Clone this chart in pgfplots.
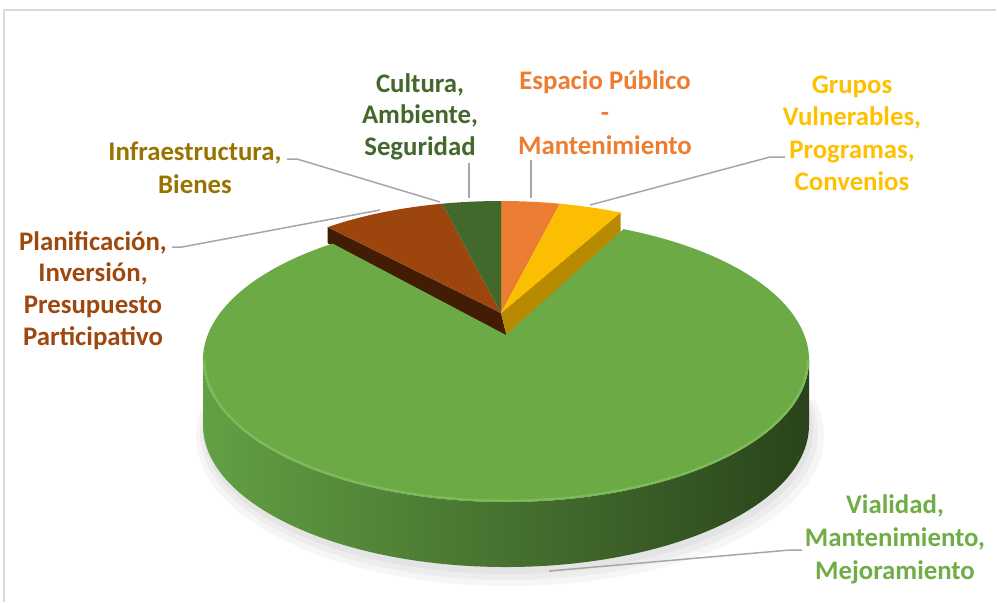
\documentclass[border=0pt]{standalone}
\usepackage{pgfplots}
\pgfplotsset{compat=1.18}
\usepackage{pgfplotstable}
\usepackage{fontspec}
\setmainfont{Carlito}
\definecolor{cOrange}{HTML}{EA7D32}
\definecolor{cYellow}{HTML}{FBBE00}
\definecolor{cYellowSide}{HTML}{B88A00}
\definecolor{cGreen}{HTML}{6CAA46}
\definecolor{cBrown}{HTML}{9C460D}
\definecolor{cBrownSide}{HTML}{421C04}
\definecolor{cDkGreen}{HTML}{43682B}
\definecolor{cInfra}{HTML}{997300}
\definecolor{tOrange}{HTML}{ED7D31}
\definecolor{tYellow}{HTML}{FFC000}
\definecolor{tGreen}{HTML}{70AD47}
\definecolor{tBrown}{HTML}{9E480E}
\definecolor{tDkGreen}{HTML}{43682B}
\definecolor{cSideL}{HTML}{62A044}
\definecolor{cSideM}{HTML}{3E6A2B}
\definecolor{cSideR}{HTML}{2A431B}
\definecolor{cHi}{HTML}{8ECB6A}
\definecolor{cLead}{HTML}{A6A6A6}
\definecolor{cFrame}{HTML}{D9D9D9}

% shares in percent, clockwise from the top:
% Espacio Publico, Grupos Vulnerables, Vialidad, Planificacion, Infraestructura, Cultura
\pgfplotstableread{
value
3.5
3.8
81.6
7.6
0
3.5
}\piedata

\newcommand\labfont{\fontsize{13.4}{16}\selectfont\bfseries}
\newcommand\lab[4]{\node[anchor=base,text=#1,inner sep=0pt,font=\labfont] at (axis cs:#2,#3) {#4};}

\begin{document}
\begin{tikzpicture}
\pgfplotstablegetelem{0}{value}\of\piedata\pgfmathsetmacro\vA{\pgfplotsretval}
\pgfplotstablegetelem{1}{value}\of\piedata\pgfmathsetmacro\vB{\pgfplotsretval}
\pgfplotstablegetelem{2}{value}\of\piedata\pgfmathsetmacro\vC{\pgfplotsretval}
\pgfplotstablegetelem{3}{value}\of\piedata\pgfmathsetmacro\vD{\pgfplotsretval}
\pgfplotstablegetelem{4}{value}\of\piedata\pgfmathsetmacro\vE{\pgfplotsretval}
\pgfplotstablegetelem{5}{value}\of\piedata\pgfmathsetmacro\vF{\pgfplotsretval}
\pgfmathsetmacro\tA{0}
\pgfmathsetmacro\tB{\tA+3.6*\vA}
\pgfmathsetmacro\tC{\tB+3.6*\vB}
\pgfmathsetmacro\tD{\tC+3.6*\vC}
\pgfmathsetmacro\tE{\tD+3.6*\vD}
\pgfmathsetmacro\tF{\tE+3.6*\vE}
\pgfmathsetmacro\tG{\tF+3.6*\vF}
\pgfmathsetmacro\aA{90-\tA}
\pgfmathsetmacro\aB{90-\tB}
\pgfmathsetmacro\aC{90-\tC}
\pgfmathsetmacro\aD{90-\tD}
\pgfmathsetmacro\aE{90-\tE}
\pgfmathsetmacro\aF{90-\tF}
\pgfmathsetmacro\aG{90-\tG}
% perspective for the exploded slice
\pgfmathsetmacro\gS{2*atan(0.865*tan(\tC/2))}
\pgfmathsetmacro\gEraw{2*atan(0.865*tan(\tD/2))}
\pgfmathsetmacro\gE{\gEraw<0 ? \gEraw+360 : \gEraw}
\pgfmathsetmacro\bS{90-\gS}
\pgfmathsetmacro\bE{90-\gE}
\begin{axis}[
  name=ax,
  scale only axis, width=498.5pt, height=301pt,
  xmin=0, xmax=997, ymin=0, ymax=602, y dir=reverse,
  hide axis, clip=false]
% frame
\draw[cFrame, line width=0.75pt] (axis cs:4,602) -- (axis cs:4,10) -- (axis cs:996,10);
% small (back) slices: radial side faces
\fill[cBrownSide] (axis cs:501,313) -- ++({135pt*cos(\aD)},{56pt*sin(\aD)}) -- ++(0,-8pt) -- (axis cs:508,341) -- cycle;
\fill[cYellowSide] (axis cs:501,313) -- ++({135pt*cos(\aC)},{56pt*sin(\aC)}) -- ++(0,-12pt) -- (axis cs:508,342) -- cycle;
% small slices: top faces
\fill[cOrange] (axis cs:501,313) -- ++({135pt*cos(\aA)},{56pt*sin(\aA)}) arc[start angle=\aA,end angle=\aB,x radius=135pt,y radius=56pt] -- cycle;
\fill[cYellow] (axis cs:501,313) -- ++({135pt*cos(\aB)},{56pt*sin(\aB)}) arc[start angle=\aB,end angle=\aC,x radius=135pt,y radius=56pt] -- cycle;
\fill[cBrown] (axis cs:501,313) -- ++({135pt*cos(\aD)},{56pt*sin(\aD)}) arc[start angle=\aD,end angle=\aE,x radius=135pt,y radius=56pt] -- cycle;
\fill[cDkGreen] (axis cs:501,313) -- ++({135pt*cos(\aF)},{56pt*sin(\aF)}) arc[start angle=\aF,end angle=\aG,x radius=135pt,y radius=56pt] -- cycle;
% shadow (only below the pie)
\begin{scope}
\clip (axis cs:150,400) rectangle (axis cs:880,602);
\fill[black,opacity=0.035] (axis cs:510,436) ellipse[x radius=157pt,y radius=75pt];
\fill[black,opacity=0.035] (axis cs:509,433) ellipse[x radius=154.5pt,y radius=73.5pt];
\fill[black,opacity=0.04] (axis cs:508,430) ellipse[x radius=152.5pt,y radius=72pt];
\end{scope}
% green (exploded) slice: side
\shade[left color=cSideL, middle color=cSideM, right color=cSideR]
  (axis cs:506,360) ++(151.5pt,0) arc[start angle=0,end angle=-180,x radius=151.5pt,y radius=71pt]
  -- ++(0,-32.5pt) arc[start angle=-180,end angle=0,x radius=151.5pt,y radius=71pt] -- cycle;
% green slice: top face
\fill[cGreen] (axis cs:506,360) ++({151.5pt*cos(\bS)},{71pt*sin(\bS)})
  arc[start angle=\bS,end angle=\bE,x radius=151.5pt,y radius=71pt] -- (axis cs:506,335) -- cycle;
\draw[cHi, line width=1pt, opacity=0.55] (axis cs:506,360) ++(150.8pt,0)
  arc[start angle=0,end angle=-180,x radius=150.8pt,y radius=70.3pt];
% leader lines
\draw[cLead, line width=0.75pt] (axis cs:469,163) -- (axis cs:469,198);
\draw[cLead, line width=0.75pt] (axis cs:531,160) -- (axis cs:531,198);
\draw[cLead, line width=0.75pt] (axis cs:785,157) -- (axis cs:770,157) -- (axis cs:590,205);
\draw[cLead, line width=0.75pt] (axis cs:287,159) -- (axis cs:297,159) -- (axis cs:440,202);
\draw[cLead, line width=0.75pt] (axis cs:172,247) -- (axis cs:182,247) -- (axis cs:380,210);
\draw[cLead, line width=0.75pt] (axis cs:802,550) -- (axis cs:790,550) -- (axis cs:549,571);
% labels
\lab{tDkGreen}{420}{92}{Cultura,}
\lab{tDkGreen}{420}{123.5}{Ambiente,}
\lab{tDkGreen}{420}{155}{Seguridad}
\lab{tOrange}{605}{89}{Espacio Público}
\lab{tOrange}{605}{121.5}{-}
\lab{tOrange}{605}{154}{Mantenimiento}
\lab{tYellow}{852}{93}{Grupos}
\lab{tYellow}{852}{125.5}{Vulnerables,}
\lab{tYellow}{852}{158}{Programas,}
\lab{tYellow}{852}{190}{Convenios}
\lab{cInfra}{195}{160.5}{Infraestructura,}
\lab{cInfra}{195}{193}{Bienes}
\lab{tBrown}{93}{250}{Planificación,}
\lab{tBrown}{93}{281.5}{Inversión,}
\lab{tBrown}{93}{313}{Presupuesto}
\lab{tBrown}{93}{345}{Participativo}
\lab{tGreen}{895}{513}{Vialidad,}
\lab{tGreen}{895}{546.5}{Mantenimiento,}
\lab{tGreen}{895}{579}{Mejoramiento}
\end{axis}
\pgfresetboundingbox
\useasboundingbox (ax.south west) rectangle (ax.north east);
\end{tikzpicture}
\end{document}
